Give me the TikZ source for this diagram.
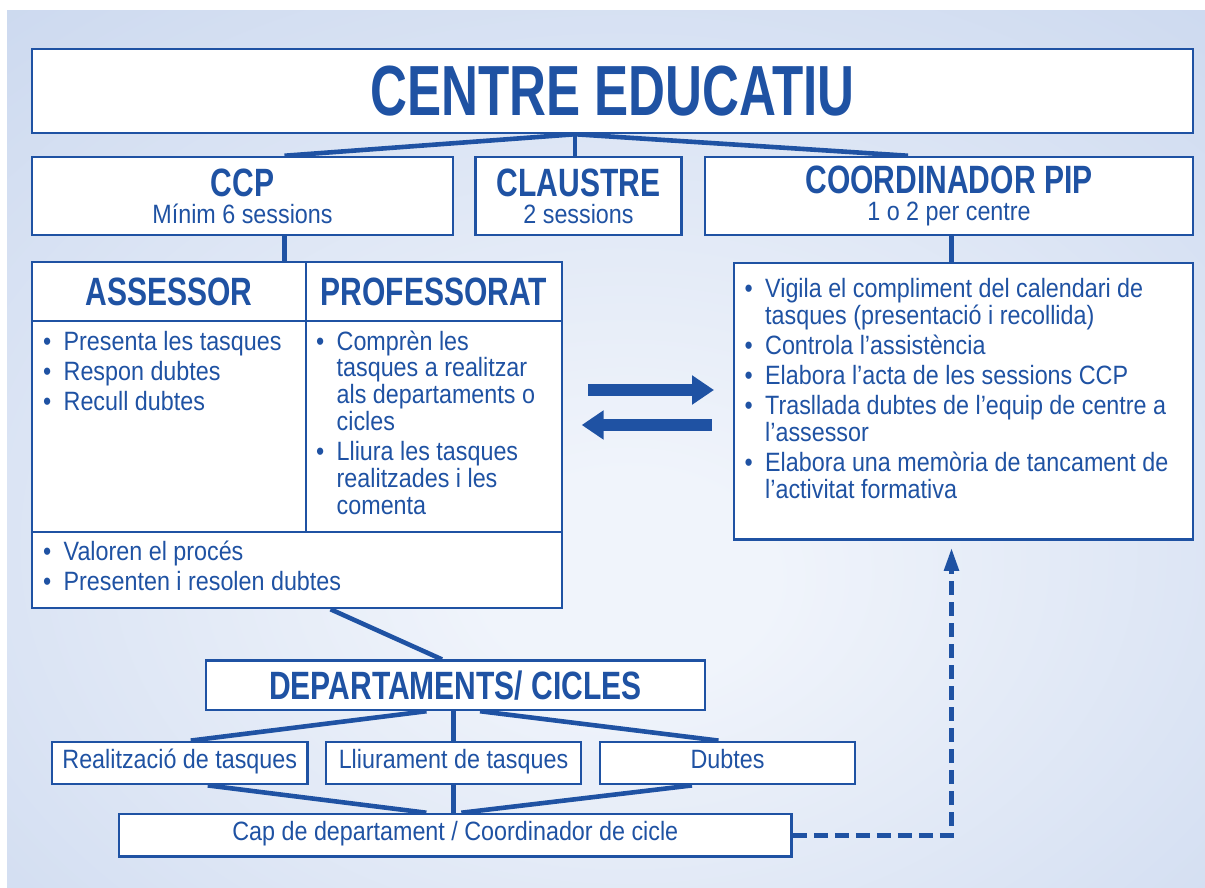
\documentclass[tikz,border=0pt]{standalone}
\usepackage{fontspec}
\setmainfont{Liberation Sans}[FakeStretch=0.88]
\newfontfamily\cnhead{Liberation Sans}[FakeStretch=0.76]
\newfontfamily\cntitle{Liberation Sans}[FakeStretch=0.72]
\usepackage{xcolor}
\usepackage{tikz}
\usetikzlibrary{arrows.meta,backgrounds,positioning}

\definecolor{pipblue}{RGB}{31,82,163}
\definecolor{bginner}{RGB}{240,244,251}
\definecolor{bgouter}{RGB}{195,210,236}
\pgfdeclareradialshading{bgglow}{\pgfpoint{1bp}{-8bp}}{color(0bp)=(bginner); color(6bp)=(bginner); color(48bp)=(bgouter); color(80bp)=(bgouter)}

\newcommand{\bodyfont}{\fontsize{26.5}{26.8}\selectfont}
\newcommand{\headsize}{\cnhead\bfseries\fontsize{39.5}{27}\selectfont}
\newcommand{\itm}[1]{\par\hangindent=20.5pt\hangafter=1\noindent\makebox[20.5pt][l]{•}#1}
\newcommand{\cellist}[2]{\parbox[t]{#1}{\raggedright\bodyfont\parskip=3.4pt #2}}

\begin{document}
\begin{tikzpicture}
		[x=1pt,y=-1pt,
		cell/.style={draw=pipblue,line width=2.5pt,fill=white,text=pipblue,align=center,inner sep=0pt,font=\bodyfont},
		twoline/.style={cell,minimum height=78pt},
		small/.style={cell,minimum height=42.3pt,text height=18.5pt,text depth=8.5pt},
		listtext/.style={inner sep=0pt,text=pipblue,anchor=base west},
		bar/.style={draw=pipblue,line width=4.6pt},
		flow/.style={draw=pipblue,line width=12pt,-{Triangle[length=22pt,width=28pt]}},
		feedback/.style={draw=pipblue,line width=5pt,dash pattern=on 14pt off 7pt,-{Triangle[length=23pt,width=14pt]}}]
		\useasboundingbox (0,0) rectangle (1205,888);

		\node[cell,minimum width=1161pt,minimum height=84pt] (centre) at (612.5,91)
			{\cntitle\bfseries\fontsize{71}{71}\selectfont CENTRE EDUCATIU};
		\node[twoline,minimum width=421pt] (ccp) at (242.5,196)
			{{\headsize CCP}\\Mínim 6 sessions};
		\node[twoline,minimum width=206pt] (claustre) at (578.5,196)
			{{\headsize CLAUSTRE}\\2 sessions};
		\node[twoline,minimum width=488pt] (coord) at (949,196)
			{{\headsize COORDINADOR PIP}\\1 o 2 per centre};

		\node[cell,minimum width=274pt,minimum height=59pt] (ahead) at (169,291.5) {\headsize ASSESSOR};
		\node[cell,minimum width=256pt,minimum height=59pt] (phead) at (434,291.5) {\headsize PROFESSORAT};
		\node[cell,minimum width=274pt,minimum height=211pt] (abody) at (169,426.5) {};
		\node[cell,minimum width=256pt,minimum height=211pt] (pbody) at (434,426.5) {};
		\node[cell,minimum width=530pt,minimum height=76pt] (both) at (297,570) {};
		\node[listtext] (alist) at (43,350)
			{\cellist{250pt}{\itm{Presenta les tasques}\itm{Respon dubtes}\itm{Recull dubtes}}};
		\node[listtext] (plist) at (316,350)
			{\cellist{240pt}{\itm{Comprèn les\newline tasques a realitzar\newline als departaments o\newline cicles}%
			\itm{Lliura les tasques\newline realitzades i les\newline comenta}}};
		\node[listtext] (blist) at (43,560)
			{\cellist{500pt}{\itm{Valoren el procés}\itm{Presenten i resolen dubtes}}};

		\node[cell,minimum width=459pt,minimum height=276.5pt] (piplist) at (963.5,401.25) {};
		\node[listtext] (pipitems) at (744.5,297.3)
			{\cellist{440pt}{\itm{Vigila el compliment del calendari de\newline tasques (presentació i recollida)}%
			\itm{Controla l’assistència}\itm{Elabora l’acta de les sessions CCP}%
			\itm{Trasllada dubtes de l’equip de centre a\newline l’assessor}%
			\itm{Elabora una memòria de tancament de\newline l’activitat formativa}}};

		\node[cell,minimum width=499pt,minimum height=49.3pt] (dept) at (455.5,685.3) {\headsize DEPARTAMENTS/ CICLES};
		\node[small,minimum width=255.5pt] (real) at (179.75,763) {Realització de tasques};
		\node[small,minimum width=255pt] (lliu) at (453.5,763) {Lliurament de tasques};
		\node[small,minimum width=255pt] (dubtes) at (727.5,763) {Dubtes};
		\node[small,minimum width=672.7pt,minimum height=42.7pt] (cap) at (455.35,835.35) {Cap de departament / Coordinador de cicle};

		\begin{scope}[on background layer]
			\shade[shading=bgglow] (7,11) rectangle (1205,888);
			\coordinate (hub) at ([xshift=-37.5pt]centre.south);
			\coordinate (pipx) at ([xshift=2.5pt]coord.south);
			\draw[bar] (hub) -- ([xshift=42pt]ccp.north);
			\draw[bar] (hub) -- (hub |- claustre.north);
			\draw[bar] (hub) -- ([xshift=-41pt]coord.north);
			\draw[bar] ([xshift=42pt]ccp.south) -- ([xshift=42pt]ccp.south |- ahead.north);
			\draw[bar] (pipx) -- (pipx |- piplist.north);
			\draw[bar] ([xshift=33.5pt]both.south) -- ([xshift=-13.5pt]dept.north);
			\draw[bar] ([xshift=-29pt]dept.south) -- ([xshift=11pt]real.north);
			\draw[bar] (lliu.north |- dept.south) -- (lliu.north);
			\draw[bar] ([xshift=24.5pt]dept.south) -- ([xshift=-9pt]dubtes.north);
			\draw[bar] ([xshift=28pt]real.south) -- ([xshift=-29pt]cap.north);
			\draw[bar] (lliu.south) -- (lliu.south |- cap.north);
			\draw[bar] ([xshift=-35.5pt]dubtes.south) -- ([xshift=6pt]cap.north);
		\end{scope}

		\coordinate (sendA) at (588,390);
		\coordinate (sendB) at (714,390);
		\coordinate (backA) at (711.7,425);
		\coordinate (backB) at (581.7,425);
		\draw[flow] (sendA) -- (sendB);
		\draw[flow] (backA) -- (backB);
		\draw[feedback] (cap.east) -| ([yshift=-7pt]pipx |- piplist.south);
\end{tikzpicture}
\end{document}
